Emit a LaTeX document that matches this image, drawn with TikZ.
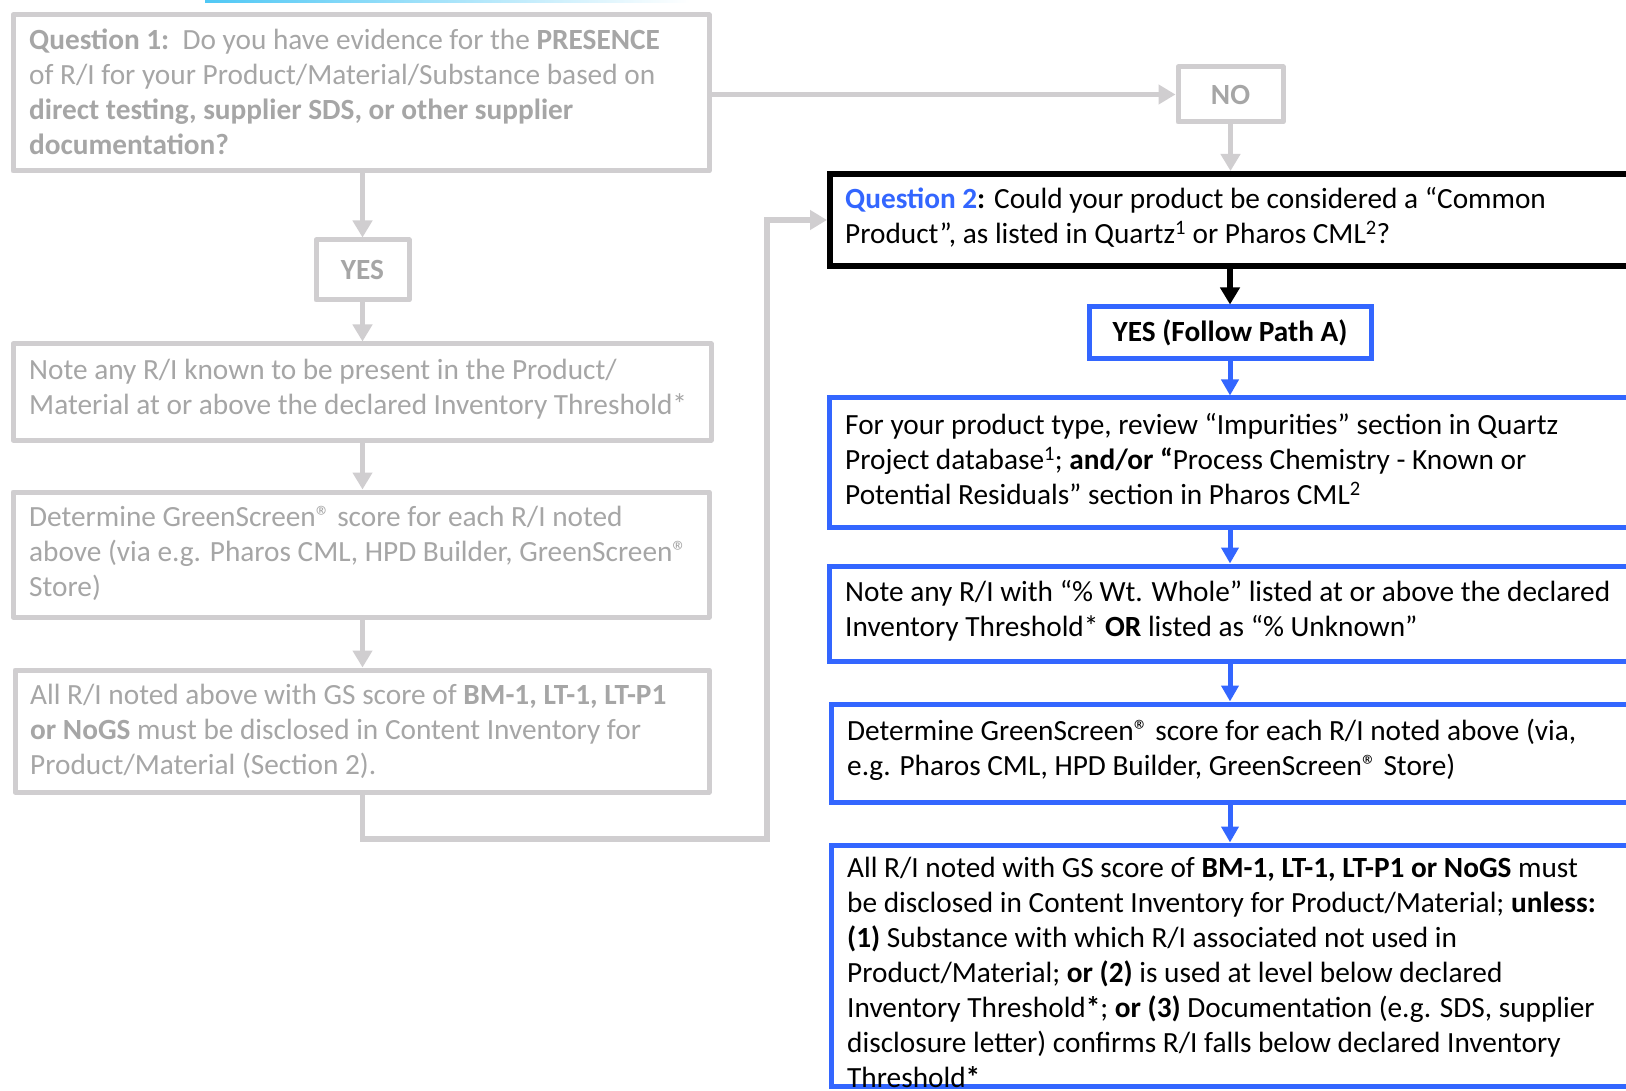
\documentclass[tikz,border=0pt]{standalone}
\usepackage{fontspec}
\setmainfont{Carlito}
\usetikzlibrary{arrows.meta}
\definecolor{gline}{RGB}{208,206,208}
\definecolor{gtxt}{RGB}{166,166,166}
\definecolor{blu}{RGB}{51,102,255}
\definecolor{cyanl}{RGB}{80,200,245}
\tikzset{
  gbox/.style={draw=gline, line width=5pt, line join=round, rectangle, inner sep=0pt, anchor=north west, text=gtxt, font=\fontsize{29.3}{35}\selectfont\bfseries},
  bbox/.style={draw=blu, line width=5pt, rectangle, inner sep=0pt, anchor=north west, font=\fontsize{29.3}{35}\selectfont\bfseries},
  kbox/.style={draw=black, line width=6pt, rectangle, inner sep=0pt, anchor=north west},
  txt/.style={anchor=north west, inner sep=0pt, align=left, font=\fontsize{29.3}{35}\selectfont, execute at begin node=\strut},
  gtx/.style={txt, text=gtxt},
  garr/.style={draw=gline, line width=5.5pt, -{Triangle[length=17pt,width=19pt]}},
  barr/.style={draw=blu, line width=5pt, -{Triangle[length=16pt,width=17pt]}},
  karr/.style={draw=black, line width=6pt, -{Triangle[length=17pt,width=19pt]}},
}
\begin{document}
\begin{tikzpicture}[x=1pt, y=-1pt]
\useasboundingbox (0,0) rectangle (1626,1091);
\clip (0,0) rectangle (1626,1091);
\fill[white] (0,0) rectangle (1626,1091);
\shade[left color=cyanl, right color=white] (205,0) rectangle (690,2.5);

% left column boxes
\node[gbox, minimum width=696pt, minimum height=156pt] (q1) at (10.5,12.5) {};
\node[gbox, minimum width=93pt, minimum height=60pt] (yes) at (313.5,237.5) {YES};
\node[gbox, minimum width=698pt, minimum height=96pt] (l1) at (10.5,341.5) {};
\node[gbox, minimum width=696pt, minimum height=125pt] (l2) at (10.5,489.5) {};
\node[gbox, minimum width=694pt, minimum height=122pt] (l3) at (12.5,667.5) {};
\node[gbox, minimum width=105pt, minimum height=55pt] (no) at (1175.5,64.5) {NO};

% right column boxes
\node[kbox, minimum width=900pt, minimum height=92pt] (q2) at (827,171) {};
\node[bbox, minimum width=282pt, minimum height=52pt] (pa) at (1086.5,304.5) {YES (Follow Path A)};
\node[bbox, minimum width=900pt, minimum height=129pt] (r1) at (826.5,395.5) {};
\node[bbox, minimum width=900pt, minimum height=95pt] (r2) at (826.5,563.5) {};
\node[bbox, minimum width=900pt, minimum height=98pt] (r3) at (828.5,701.5) {};
\node[bbox, minimum width=900pt, minimum height=241pt] (r4) at (828.5,842.5) {};

% connectors
\coordinate (loopc) at (767,839);
\draw[garr] (q1.east |- no.west) -- (no.west);
\draw[garr] (no.south) -- (no.south |- q2.north);
\draw[garr] (yes.north |- q1.south) -- (yes.north);
\draw[garr] (yes.south) -- (yes.south |- l1.north);
\draw[garr] (yes.south |- l1.south) -- (yes.south |- l2.north);
\draw[garr] (yes.south |- l2.south) -- (yes.south |- l3.north);
\draw[garr] (yes.south |- l3.south) |- (loopc) |- (q2.west);
\draw[karr] (pa.north |- q2.south) -- (pa.north);
\draw[barr] (pa.south) -- (pa.south |- r1.north);
\draw[barr] (pa.south |- r1.south) -- (pa.south |- r2.north);
\draw[barr] (pa.south |- r2.south) -- (pa.south |- r3.north);
\draw[barr] (pa.south |- r3.south) -- (pa.south |- r4.north);

% texts
\node[gtx] (q1t) at (29,28.5) {\textbf{Question 1:}\ \ Do you have evidence for the \textbf{PRESENCE}\\
of R/I for your Product/Material/Substance based on\\
\textbf{direct testing, supplier SDS, or other supplier}\\
\textbf{documentation?}};
\node[gtx] (l1t) at (29,358.5) {Note any R/I known to be present in the Product/\\
Material at or above the declared Inventory Threshold*};
\node[gtx] (l2t) at (29,505.5) {Determine GreenScreen® score for each R/I noted\\
above (via e.g. Pharos CML, HPD Builder, GreenScreen®\\
Store)};
\node[gtx] (l3t) at (30,683.5) {All R/I noted above with GS score of \textbf{BM-1, LT-1, LT-P1}\\
\textbf{or NoGS} must be disclosed in Content Inventory for\\
Product/Material (Section 2).};
\node[txt] (q2t) at (845,187.5) {\textbf{\textcolor{blu}{Question 2}:} Could your product be considered a “Common\\
Product”, as listed in Quartz\textsuperscript{1} or Pharos CML\textsuperscript{2}?};
\node[txt] (r1t) at (845,413.5) {For your product type, review “Impurities” section in Quartz\\
Project database\textsuperscript{1}; \textbf{and/or “}Process Chemistry - Known or\\
Potential Residuals” section in Pharos CML\textsuperscript{2}};
\node[txt] (r2t) at (845,580.5) {Note any R/I with “\% Wt. Whole” listed at or above the declared\\
Inventory Threshold* \textbf{OR} listed as “\% Unknown”};
\node[txt] (r3t) at (847,718.5) {Determine GreenScreen® score for each R/I noted above (via,\\
e.g. Pharos CML, HPD Builder, GreenScreen® Store)};
\node[txt] (r4t) at (847,857) {All R/I noted with GS score of \textbf{BM-1, LT-1, LT-P1 or NoGS} must\\
be disclosed in Content Inventory for Product/Material; \textbf{unless:}\\
\textbf{(1)} Substance with which R/I associated not used in\\
Product/Material; \textbf{or (2)} is used at level below declared\\
Inventory Threshold\textbf{*}; \textbf{or (3)} Documentation (e.g. SDS, supplier\\
disclosure letter) confirms R/I falls below declared Inventory\\
Threshold\textbf{*}};
\end{tikzpicture}
\end{document}
